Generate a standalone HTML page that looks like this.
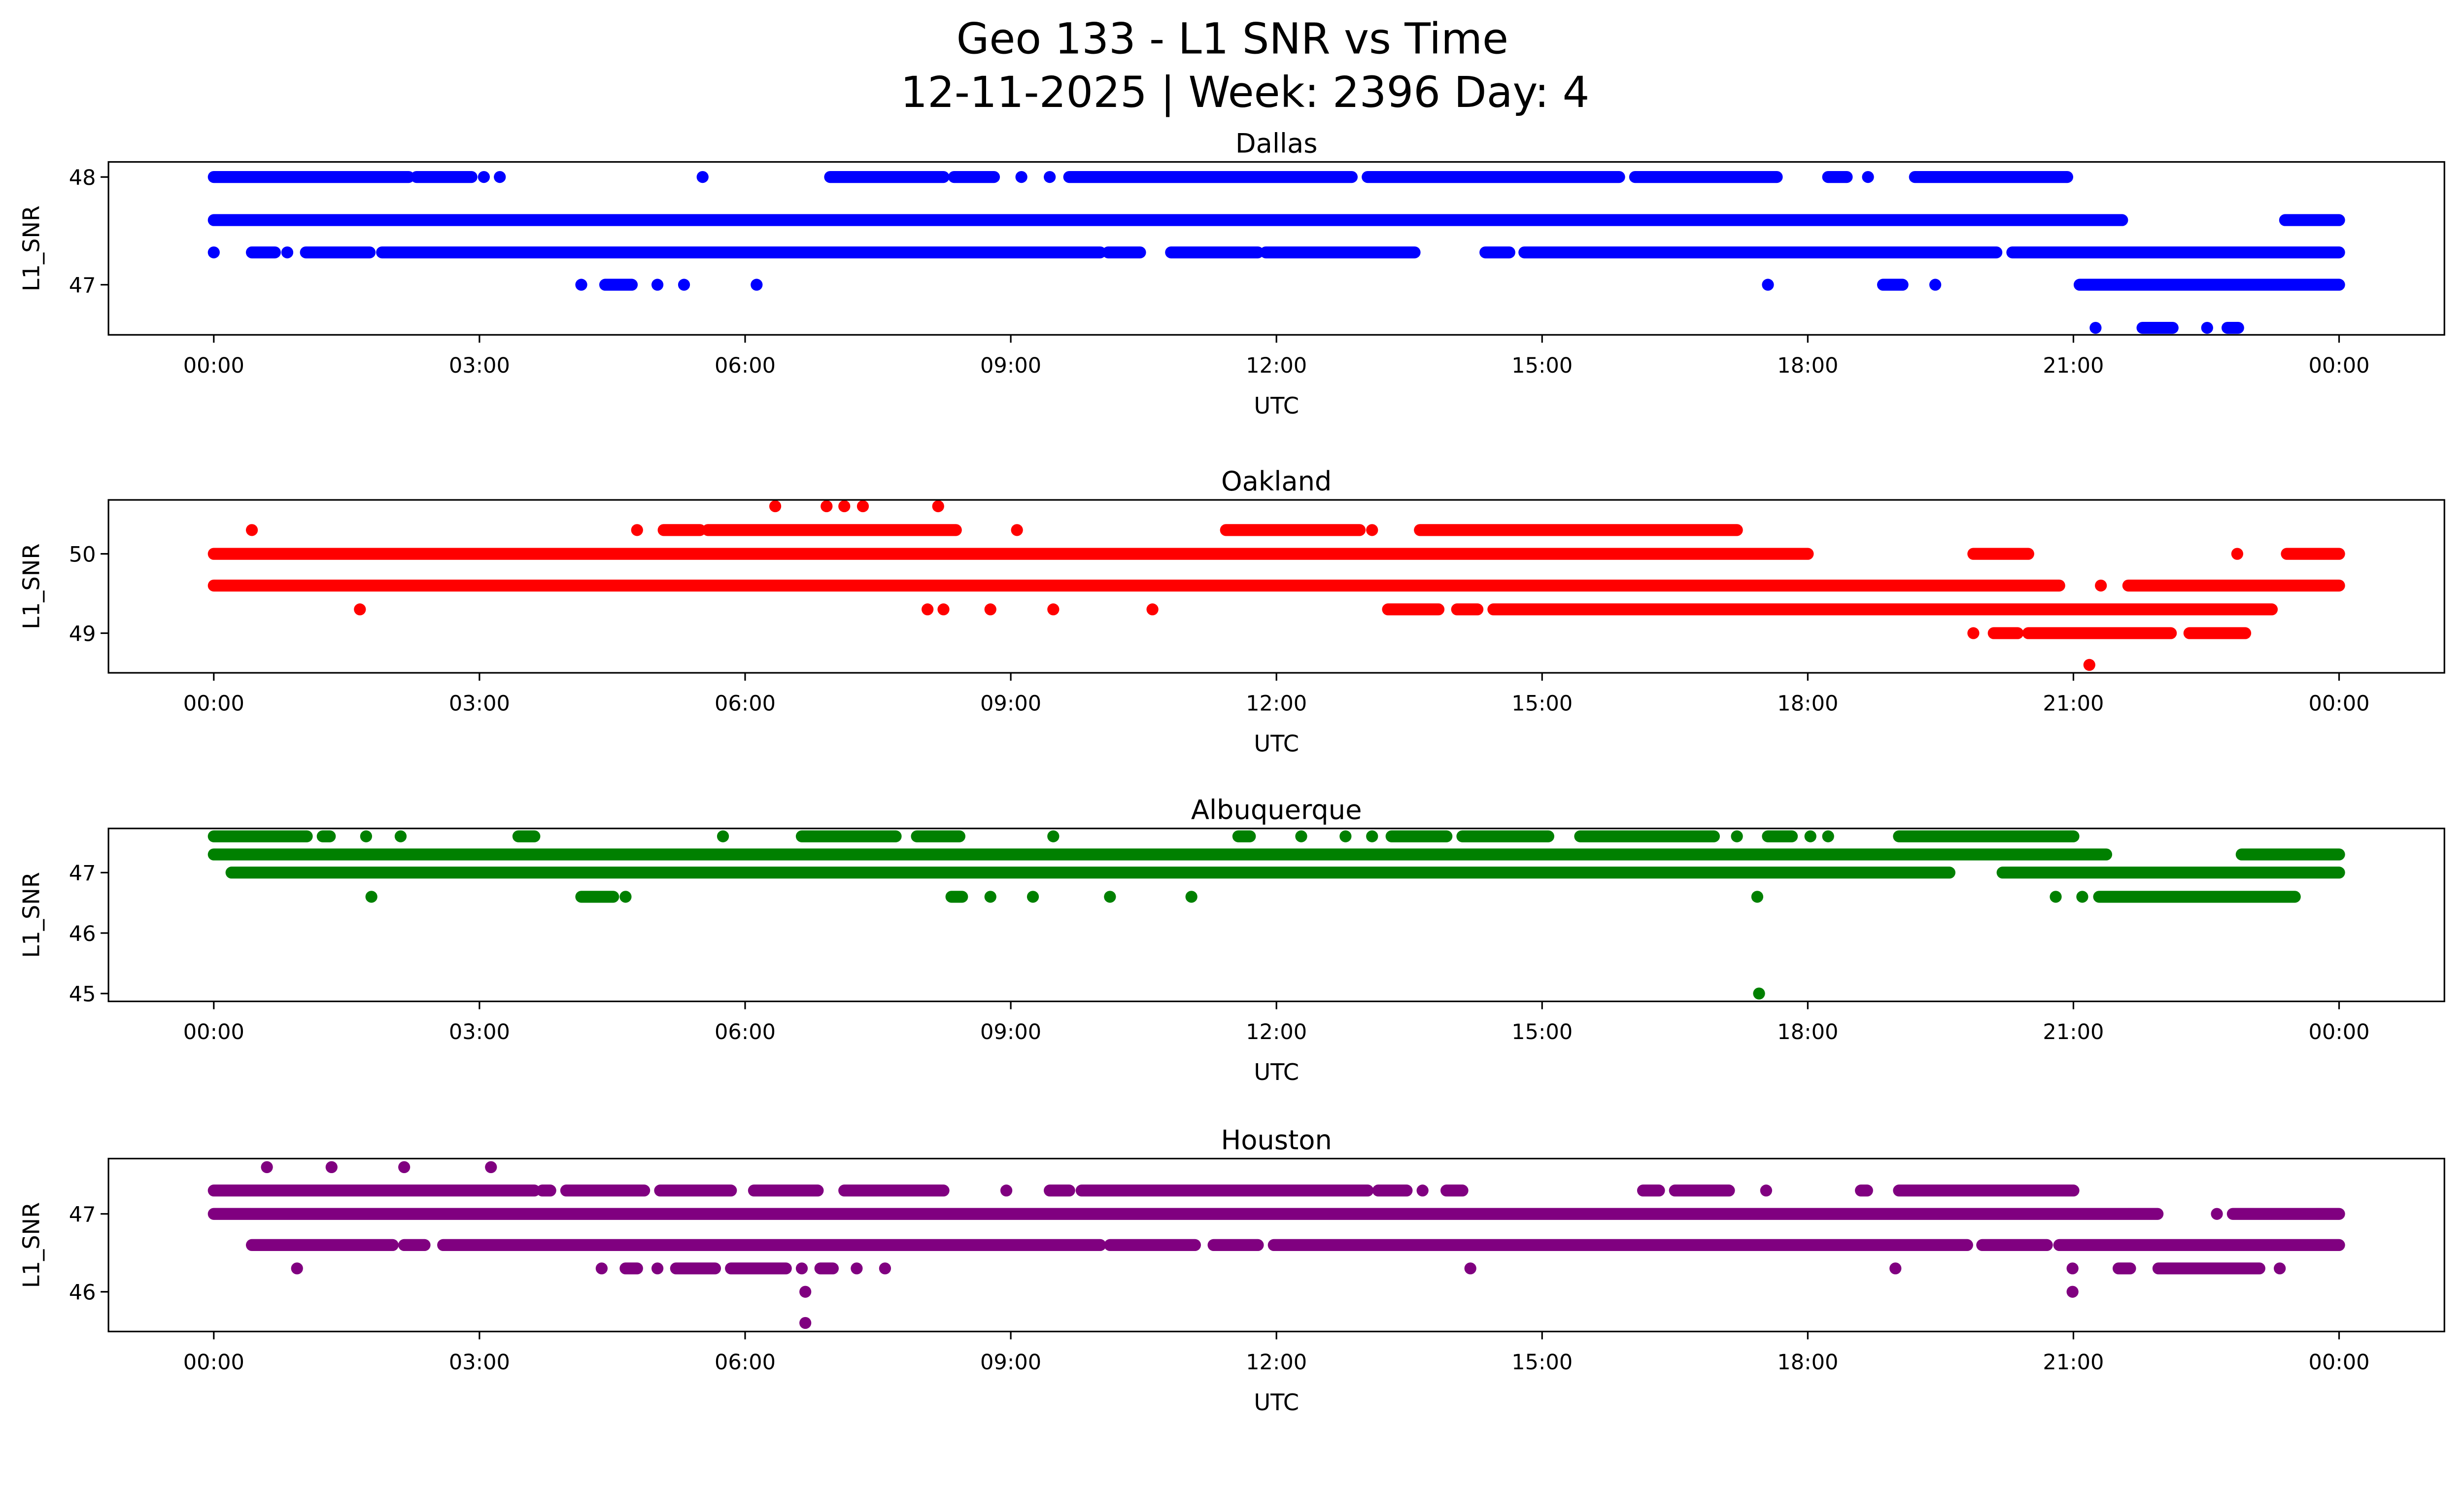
<!DOCTYPE html>
<html><head><meta charset="utf-8"><style>
html,body{margin:0;padding:0;background:#fff;overflow:hidden;}
svg{display:block;font-family:"DejaVu Sans","Liberation Sans",sans-serif;}
</style></head><body>
<svg id="chart" width="5225" height="3033" viewBox="0 0 1638 951" preserveAspectRatio="none" xmlns="http://www.w3.org/2000/svg">
<rect width="1638" height="951" fill="#fff"/>
<text x="784" y="34" font-size="27" text-anchor="middle">Geo 133 - L1 SNR vs Time</text>
<text x="792" y="68" font-size="27" text-anchor="middle">12-11-2025 | Week: 2396 Day: 4</text>
</svg>
<script>
const xTickLabels = ["00:00","03:00","06:00","09:00","12:00","15:00","18:00","21:00","00:00"];
const xTickHours = [0,3,6,9,12,15,18,21,24];
const stationNames = ["Dallas","Oakland","Albuquerque","Houston"];
const stationColors = ["blue","red","green","purple"];
const yTicks = [[47,48],[49,50],[45,46,47],[46,47]];
const yLims = [[46.535,48.14],[48.5,50.68],[44.87,47.73],[45.49,47.71]];
// runs: [level, startHour, endHour]
const dallasRuns = [
[48,0,2.2],[48,2.29,2.91],[48,3.05,3.05],[48,3.23,3.23],[48,5.52,5.52],[48,6.96,8.24],[48,8.36,8.81],[48,9.12,9.12],[48,9.44,9.44],[48,9.66,12.85],[48,13.03,15.87],[48,16.05,17.65],[48,18.23,18.44],[48,18.68,18.68],[48,19.21,20.93],
[47.6,0,21.55],[47.6,23.39,24],
[47.3,0,0],[47.3,0.43,0.69],[47.3,0.83,0.83],[47.3,1.04,1.76],[47.3,1.9,10.01],[47.3,10.1,10.46],[47.3,10.81,11.79],[47.3,11.88,13.56],[47.3,14.36,14.63],[47.3,14.8,20.13],[47.3,20.31,24],
[47,4.15,4.15],[47,4.42,4.72],[47,5.01,5.01],[47,5.31,5.31],[47,6.13,6.13],[47,17.55,17.55],[47,18.85,19.07],[47,19.44,19.44],[47,21.07,24],
[46.6,21.25,21.25],[46.6,21.78,22.12],[46.6,22.51,22.51],[46.6,22.74,22.86]];
const oaklandRuns = [
[50.6,6.34,6.34],[50.6,6.92,6.92],[50.6,7.12,7.12],[50.6,7.33,7.33],[50.6,8.18,8.18],
[50.3,0.43,0.43],[50.3,4.78,4.78],[50.3,5.08,5.49],[50.3,5.58,8.38],[50.3,9.07,9.07],[50.3,11.43,12.94],[50.3,13.08,13.08],[50.3,13.62,17.2],
[50,0,18],[50,19.87,20.49],[50,22.85,22.85],[50,23.41,24],
[49.6,0,20.84],[49.6,21.31,21.31],[49.6,21.62,24],
[49.3,1.65,1.65],[49.3,8.06,8.06],[49.3,8.24,8.24],[49.3,8.77,8.77],[49.3,9.48,9.48],[49.3,10.6,10.6],[49.3,13.26,13.83],[49.3,14.04,14.27],[49.3,14.45,23.24],
[49,19.87,19.87],[49,20.1,20.37],[49,20.49,22.1],[49,22.31,22.94],
[48.6,21.18,21.18]];
const albuquerqueRuns = [
[47.6,0,1.05],[47.6,1.23,1.31],[47.6,1.72,1.72],[47.6,2.11,2.11],[47.6,3.44,3.62],[47.6,5.75,5.75],[47.6,6.64,7.7],[47.6,7.94,8.42],[47.6,9.48,9.48],[47.6,11.57,11.7],[47.6,12.28,12.28],[47.6,12.78,12.78],[47.6,13.08,13.08],[47.6,13.3,13.92],[47.6,14.1,15.07],[47.6,15.43,16.94],[47.6,17.2,17.2],[47.6,17.55,17.82],[47.6,18.03,18.03],[47.6,18.23,18.23],[47.6,19.03,21.0],
[47.3,0,21.37],[47.3,22.9,24],
[47,0.2,19.6],[47,20.2,24],
[46.6,1.78,1.78],[46.6,4.15,4.51],[46.6,4.65,4.65],[46.6,8.33,8.45],[46.6,8.77,8.77],[46.6,9.25,9.25],[46.6,10.12,10.12],[46.6,11.04,11.04],[46.6,17.43,17.43],[46.6,20.8,20.8],[46.6,21.1,21.1],[46.6,21.29,23.5],
[45,17.45,17.45]];
const houstonRuns = [
[47.6,0.6,0.6],[47.6,1.33,1.33],[47.6,2.15,2.15],[47.6,3.13,3.13],
[47.3,0,3.62],[47.3,3.71,3.8],[47.3,3.98,4.86],[47.3,5.04,5.84],[47.3,6.1,6.82],[47.3,7.12,8.24],[47.3,8.95,8.95],[47.3,9.44,9.66],[47.3,9.8,13.03],[47.3,13.15,13.47],[47.3,13.65,13.65],[47.3,13.92,14.1],[47.3,16.14,16.32],[47.3,16.5,17.11],[47.3,17.53,17.53],[47.3,18.6,18.67],[47.3,19.03,21.0],
[47,0,21.95],[47,22.62,22.62],[47,22.8,24],
[46.6,0.43,2.02],[46.6,2.15,2.38],[46.6,2.59,10.01],[46.6,10.12,11.08],[46.6,11.29,11.79],[46.6,11.97,19.8],[46.6,19.97,20.7],[46.6,20.84,24],
[46.3,0.94,0.94],[46.3,4.38,4.38],[46.3,4.65,4.78],[46.3,5.01,5.01],[46.3,5.22,5.66],[46.3,5.84,6.46],[46.3,6.64,6.64],[46.3,6.85,6.99],[46.3,7.26,7.26],[46.3,7.58,7.58],[46.3,14.19,14.19],[46.3,18.99,18.99],[46.3,20.99,20.99],[46.3,21.51,21.64],[46.3,21.96,23.1],[46.3,23.33,23.33],
[46,6.68,6.68],[46,20.99,20.99],
[45.6,6.68,6.68]];
const allRuns = [dallasRuns, oaklandRuns, albuquerqueRuns, houstonRuns];

const NS = "http://www.w3.org/2000/svg";
const svg = document.getElementById("chart");
const axL = 69, axR = 1555;
const panelTops = [103,318,527,737], panelH = 110;
function xScale(h){ return 136 + h*(1488-136)/24; }
function yScaleFor(i){ const [lo,hi]=yLims[i]; const t=panelTops[i]; return v => t + (hi - v)/(hi-lo)*panelH; }
function mk(tag, attrs){ const e=document.createElementNS(NS,tag); for(const k in attrs) e.setAttribute(k,attrs[k]); return e; }

stationNames.forEach((name,i)=>{
  const y = yScaleFor(i), top = panelTops[i], bot = top+panelH;
  const g = mk("g",{});
  
  
  svg.appendChild(g);
  const title = mk("text",{x:(axL+axR)/2, y:top-6, "font-size":17, "text-anchor":"middle"});
  title.textContent = name;
  
  
  g.appendChild(title);
  const pts = mk("g",{fill:stationColors[i]});
  
  
  g.appendChild(pts);
  allRuns[i].forEach(r=>{
    const [lvl,a,b] = r;
    const cy = y(lvl);
    if (b - a < 0.01) {
      const c = mk("circle",{cx:xScale(a), cy:cy, r:3.8});
      
      
      pts.appendChild(c);
    } else {
      const seg = mk("line",{x1:xScale(a), y1:cy, x2:xScale(b), y2:cy, stroke:stationColors[i], "stroke-width":7.6, "stroke-linecap":"round"});
      
      
      pts.appendChild(seg);
    }
  });
  const frame = mk("rect",{x:axL, y:top, width:axR-axL, height:panelH, fill:"none", stroke:"#000", "stroke-width":1});
  
  
  g.appendChild(frame);
  xTickHours.forEach((h,k)=>{
    const x = xScale(h);
    const t = mk("line",{x1:x,y1:bot,x2:x,y2:bot+5,stroke:"#000","stroke-width":1});
    
    
    g.appendChild(t);
    const l = mk("text",{x:x,y:bot+24,"font-size":13.5,"text-anchor":"middle"});
    l.textContent = xTickLabels[k];
    
    
    g.appendChild(l);
  });
  yTicks[i].forEach(v=>{
    const yy = y(v);
    const t = mk("line",{x1:axL-5,y1:yy,x2:axL,y2:yy,stroke:"#000","stroke-width":1});
    
    
    g.appendChild(t);
    const l = mk("text",{x:axL-8,y:yy+5,"font-size":13.5,"text-anchor":"end"});
    l.textContent = String(v);
    
    
    g.appendChild(l);
  });
  const xl = mk("text",{x:(axL+axR)/2, y:bot+50, "font-size":14.5, "text-anchor":"middle"});
  xl.textContent = "UTC";
  
  
  g.appendChild(xl);
  const yl = mk("text",{x:0,y:0,"font-size":14.5,"text-anchor":"middle",transform:`translate(25,${top+panelH/2}) rotate(-90)`});
  yl.textContent = "L1_SNR";
  
  
  g.appendChild(yl);
});
</script>
</body></html>
